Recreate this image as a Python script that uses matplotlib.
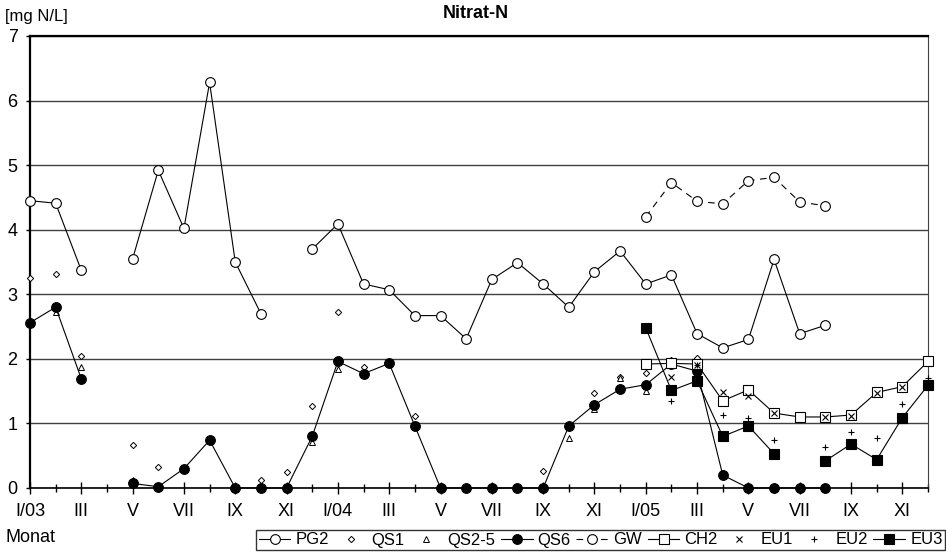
import numpy as np
import matplotlib
matplotlib.use("Agg")
import matplotlib.pyplot as plt
from matplotlib.ticker import FixedLocator

plt.rcParams["font.family"] = ["Liberation Sans", "DejaVu Sans"]

nan = np.nan

# months from I/03 (index 0) to XII/05 (index 35)
months = np.arange(36)
tick_labels = ["I/03", "III", "V", "VII", "IX", "XI",
               "I/04", "III", "V", "VII", "IX", "XI",
               "I/05", "III", "V", "VII", "IX", "XI"]

pg2 = [4.45, 4.41, 3.37, nan, 3.55, 4.92, 4.02, 6.28, 3.50, 2.70, nan, 3.70,
       4.09, 3.16, 3.07, 2.67, 2.67, 2.31, 3.23, 3.49, 3.16, 2.80, 3.35, 3.67,
       3.16, 3.30, 2.39, 2.17, 2.30, 3.54, 2.39, 2.52, nan, nan, nan, nan]
qs1 = [3.25, 3.31, 2.04, nan, 0.67, 0.32, nan, nan, nan, 0.13, 0.25, 1.27,
       2.73, 1.88, nan, 1.12, nan, nan, nan, nan, 0.26, nan, 1.47, 1.72,
       1.78, 1.98, 2.02, nan, nan, nan, nan, nan, nan, nan, nan, nan]
qs2_5 = [2.55, 2.72, 1.88, nan, 0.12, nan, nan, nan, nan, nan, nan, 0.72,
         1.84, nan, nan, nan, nan, nan, nan, nan, nan, 0.77, 1.22, 1.70,
         1.50, 1.92, 1.93, nan, nan, nan, nan, nan, nan, nan, nan, nan]
qs6 = [2.56, 2.80, 1.69, nan, 0.07, 0.02, 0.30, 0.74, 0.0, 0.0, 0.0, 0.80,
       1.96, 1.77, 1.93, 0.96, 0.0, 0.0, 0.0, 0.0, 0.0, 0.96, 1.29, 1.53,
       1.60, 1.92, 1.81, 0.20, 0.0, 0.0, 0.0, 0.0, nan, nan, nan, nan]
gw = [nan] * 24 + [4.20, 4.73, 4.44, 4.40, 4.76, 4.81, 4.43, 4.37,
                   nan, nan, nan, nan]
ch2 = [nan] * 24 + [1.92, 1.93, 1.92, 1.35, 1.52, 1.16, 1.10, 1.10,
                    1.13, 1.48, 1.57, 1.96]
eu1 = [nan] * 24 + [nan, 1.72, 1.90, 1.49, 1.43, 1.16, nan, 1.10,
                    1.12, 1.47, 1.57, nan]
eu2 = [nan] * 24 + [nan, 1.34, 1.90, 1.13, 1.09, 0.75, nan, 0.64,
                    0.87, 0.77, 1.30, 1.71]
eu3 = [nan] * 24 + [2.48, 1.51, 1.66, 0.80, 0.96, 0.53, nan, 0.42,
                    0.68, 0.44, 1.09, 1.59]

fig = plt.figure(figsize=(9.46, 5.52), dpi=100)
ax = fig.add_axes([30 / 946, 1 - 488 / 552, 898 / 946, 452 / 552])

lw = 0.8
kw = dict(color="black", clip_on=False, zorder=3)
ax.plot(months, pg2, ls="-", marker="o", ms=7, mfc="white", mec="black", mew=0.8, lw=lw, label="PG2", **kw)
ax.plot(months, qs1, ls="none", marker="D", ms=3.2, mfc="white", mec="black", mew=0.7, label="QS1", **kw)
ax.plot(months, qs2_5, ls="none", marker="^", ms=3.8, mfc="white", mec="black", mew=0.7, label="QS2-5", **kw)
ax.plot(months, qs6, ls="-", marker="o", ms=7, mfc="black", mec="black", mew=0.8, lw=lw, label="QS6", **kw)
ax.plot(months, gw, ls=(0, (6, 5)), marker="o", ms=7, mfc="white", mec="black", mew=0.8, lw=lw, label="GW", **kw)
ax.plot(months, ch2, ls="-", marker="s", ms=7, mfc="white", mec="black", mew=0.8, lw=lw, label="CH2", **kw)
ax.plot(months, eu1, ls="none", marker="x", ms=3.8, mec="black", mew=0.8, label="EU1", **kw)
ax.plot(months, eu2, ls="none", marker="+", ms=5, mec="black", mew=0.8, label="EU2", **kw)
ax.plot(months, eu3, ls="-", marker="s", ms=6.5, mfc="black", mec="black", mew=0.8, lw=lw, label="EU3", **kw)

ax.set_xlim(0, 35)
ax.set_ylim(0, 7)
ax.set_yticks(range(0, 8))
ax.yaxis.grid(True, color="#404040", lw=1)
ax.set_axisbelow(True)
ax.tick_params(axis="y", length=3, width=1, labelsize=13, pad=6)

ax.xaxis.set_major_locator(FixedLocator(np.arange(0, 36, 2)))
ax.set_xticklabels(tick_labels)
ax.xaxis.set_minor_locator(FixedLocator(np.arange(1, 36, 2)))
ax.tick_params(axis="x", which="major", direction="inout", length=9, width=1,
               labelsize=13, pad=6)
ax.tick_params(axis="x", which="minor", direction="inout", length=6, width=1)

ax.spines["left"].set_linewidth(1.6)
ax.spines["bottom"].set_linewidth(1.2)
ax.spines["top"].set_linewidth(1.6)
ax.spines["right"].set_color("#404040")

fig.text(5 / 946, 1 - 16 / 552, "[mg N/L]", fontsize=12, va="center", ha="left")
fig.text(476 / 946, 1 - 14 / 552, "Nitrat-N", fontsize=13, fontweight="bold",
         va="center", ha="center")
fig.text(5 / 946, 1 - 537 / 552, "Monat", fontsize=13, va="center", ha="left")

leg = fig.legend(loc="lower right", bbox_to_anchor=(945 / 946, 2 / 552), ncol=9,
                 fontsize=12, frameon=True, fancybox=False, edgecolor="black",
                 handlelength=1.9, handletextpad=0.3, columnspacing=0.35,
                 borderpad=0.15, borderaxespad=0)
leg.get_frame().set_linewidth(1.0)

fig.savefig("out.png", dpi=100)
